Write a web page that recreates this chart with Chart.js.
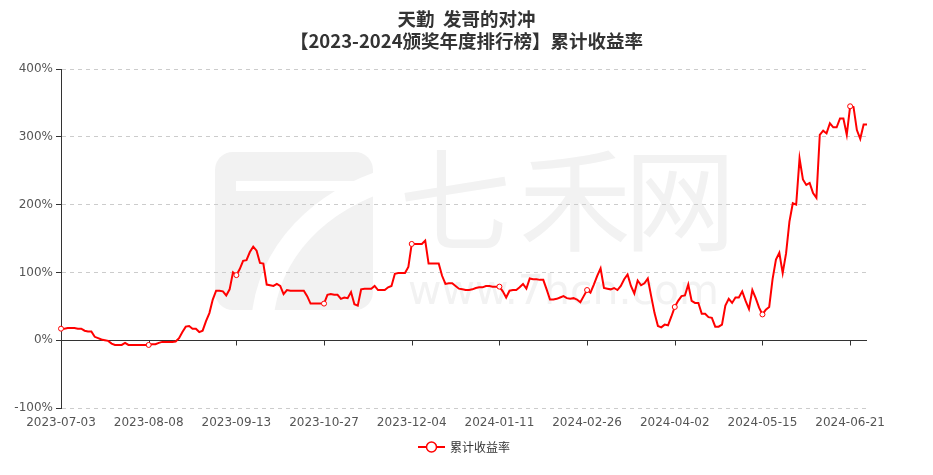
<!DOCTYPE html>
<html>
<head>
<meta charset="utf-8">
<script src="https://cdn.jsdelivr.net/npm/chart.js@4.4.1/dist/chart.umd.min.js"></script>
<style>
  html, body { margin: 0; padding: 0; background: #fff; }
  #wrap { width: 933px; height: 475px; position: relative; }
</style>
</head>
<body>
<div id="wrap"><canvas id="c" width="933" height="475"></canvas></div>
<script>
// title lines
const titleLines = ['天勤  发哥的对冲', '【2023-2024颁奖年度排行榜】累计收益率'];
const seriesName = '累计收益率';

// one x label every 26 trading days
const tickEvery = 26;
const tickLabels = ['2023-07-03', '2023-08-08', '2023-09-13', '2023-10-27', '2023-12-04',
  '2024-01-11', '2024-02-26', '2024-04-02', '2024-05-15', '2024-06-21'];

// cumulative return, %
const returns = [
  17, 17, 18, 18, 18, 17, 17, 14, 13, 13, 5, 3, 1, 0, -1, -5, -7, -7, -7, -4, -7, -7, -7, -7, -7, -7,
  -7, -6, -6, -4, -2.5, -2.5, -2.5, -2.5, -2, 3, 12, 20, 21, 17, 17, 12, 14, 28, 40, 60, 73, 73, 72, 66, 75, 100,
  96, 105, 117, 118, 130, 138, 132, 114, 113, 82, 81, 80, 83, 80, 68, 74, 73, 73, 73, 73, 73, 65, 54, 54, 54, 54,
  54, 67, 68, 67, 67, 61, 63, 62, 71, 53, 51, 75, 76, 76, 76, 80, 74, 74, 74, 78, 80, 98, 99, 99, 99, 108,
  142, 142, 142, 142, 147, 113, 113, 113, 113, 95, 83, 84, 84, 80, 76, 75, 74, 74, 75, 77, 78, 78, 80, 80, 79, 79,
  79, 72, 63, 73, 74, 74, 78, 83, 76, 91, 90, 90, 89, 89, 75, 60, 60, 61, 63, 65, 62, 61, 62, 60, 56, 65,
  74, 70, 82, 95, 106, 77, 76, 75, 77, 74, 80, 90, 97, 80, 69, 88, 81, 84, 91, 65, 40, 21, 19, 23, 22, 35,
  49, 58, 65, 66, 82, 58, 55, 55, 39, 39, 34, 33, 20, 20, 23, 51, 61, 55, 63, 63, 72, 58, 46, 74, 62, 48,
  38, 45, 49, 90, 119, 129, 99, 128, 175, 202, 200, 268, 237, 229, 232, 217, 210, 303, 309, 305, 320, 314, 314, 327, 327, 303,
  345, 344, 310, 297, 318, 318
];

const yMin = -100, yMax = 400, yStep = 100;

const labels = returns.map((_, i) => i % tickEvery === 0 ? (tickLabels[i / tickEvery] || '') : '');

const RED = '#ff0000';
const AXIS = '#333333';
const WM = '#f2f2f2';
const CJK = '"Noto Sans CJK SC", "DejaVu Sans", sans-serif';
const LATIN = '"DejaVu Sans", sans-serif';

// faint site watermark + white background, drawn under the grid
const watermark = {
  id: 'watermark',
  beforeDraw(chart) {
    const ctx = chart.ctx;
    ctx.save();
    ctx.fillStyle = '#fff';
    ctx.fillRect(0, 0, chart.width, chart.height);

    // logo block with a white sweep through it
    ctx.fillStyle = WM;
    ctx.beginPath();
    ctx.roundRect(215, 152, 158, 158, 18);
    ctx.fill();
    ctx.strokeStyle = '#fff';
    ctx.lineWidth = 22;
    ctx.beginPath();
    ctx.moveTo(262, 322);
    ctx.bezierCurveTo(268, 250, 320, 200, 392, 178);
    ctx.stroke();
    ctx.lineWidth = 10;
    ctx.beginPath();
    ctx.moveTo(236, 186);
    ctx.lineTo(360, 186);
    ctx.stroke();

    ctx.fillStyle = WM;
    ctx.textAlign = 'center';
    ctx.textBaseline = 'middle';
    ctx.font = '112px ' + CJK;
    ctx.fillText('七', 455, 200);
    ctx.fillText('禾', 575, 200);
    ctx.fillText('网', 680, 200);
    ctx.textAlign = 'left';
    ctx.font = '41px ' + LATIN;
    ctx.fillText('www.7hcn.com', 408, 293);
    ctx.restore();
  }
};

// x axis line sits on 0%, ticks point down from it
const zeroAxis = {
  id: 'zeroAxis',
  beforeDatasetsDraw(chart) {
    const { ctx, chartArea } = chart;
    const x = chart.scales.x, y = chart.scales.y;
    const y0 = Math.round(y.getPixelForValue(0)) + 0.5;
    ctx.save();
    ctx.strokeStyle = AXIS;
    ctx.lineWidth = 1;
    ctx.beginPath();
    ctx.moveTo(chartArea.left, y0);
    ctx.lineTo(chartArea.right, y0);
    for (let i = tickEvery; i < returns.length; i += tickEvery) {
      const px = Math.round(x.getPixelForValue(i)) + 0.5;
      ctx.moveTo(px, y0);
      ctx.lineTo(px, y0 + 5);
    }
    ctx.stroke();
    ctx.restore();
  }
};

// title on top, legend at the bottom
const decor = {
  id: 'decor',
  afterDraw(chart) {
    const ctx = chart.ctx;
    const cx = chart.width / 2;
    ctx.save();
    ctx.fillStyle = '#333';
    ctx.textAlign = 'center';
    ctx.textBaseline = 'middle';
    ctx.font = 'bold 18.5px ' + CJK;
    ctx.fillText(titleLines[0], cx, 19);
    ctx.fillText(titleLines[1], cx, 41);

    const ly = 447;
    ctx.strokeStyle = RED;
    ctx.lineWidth = 2;
    ctx.beginPath();
    ctx.moveTo(418, ly);
    ctx.lineTo(445, ly);
    ctx.stroke();
    ctx.beginPath();
    ctx.arc(431.5, ly, 5, 0, Math.PI * 2);
    ctx.fillStyle = '#fff';
    ctx.fill();
    ctx.lineWidth = 1.5;
    ctx.stroke();

    ctx.fillStyle = '#333';
    ctx.textAlign = 'left';
    ctx.font = '12px ' + CJK;
    ctx.fillText(seriesName, 450, ly);
    ctx.restore();
  }
};

new Chart(document.getElementById('c'), {
  type: 'line',
  data: {
    labels: labels,
    datasets: [{
      label: seriesName,
      data: returns,
      borderColor: RED,
      borderWidth: 2,
      tension: 0,
      fill: false,
      pointRadius: ctx => ctx.dataIndex % tickEvery === 0 ? 2.5 : 0,
      pointHoverRadius: 0,
      pointBackgroundColor: '#fff',
      pointBorderColor: RED,
      pointBorderWidth: 1
    }]
  },
  options: {
    responsive: false,
    animation: false,
    devicePixelRatio: 1,
    layout: { padding: { top: 69, right: 66, bottom: 0, left: 0 } },
    plugins: {
      legend: { display: false },
      title: { display: false },
      tooltip: { enabled: false }
    },
    scales: {
      x: {
        type: 'category',
        offset: false,
        grid: { display: false, drawTicks: false },
        border: { display: false },
        ticks: {
          autoSkip: false,
          maxRotation: 0,
          minRotation: 0,
          padding: 8,
          color: '#555',
          font: { family: LATIN, size: 12 }
        },
        afterFit(scale) { scale.height = 67; }
      },
      y: {
        min: yMin,
        max: yMax,
        grid: {
          color: ctx => ctx.tick && ctx.tick.value === 0 ? 'rgba(0,0,0,0)' : '#cccccc',
          lineWidth: 1,
          tickColor: AXIS,
          tickLength: 5,
          tickBorderDash: []
        },
        border: { display: true, color: AXIS, width: 1, dash: [4, 4] },
        ticks: {
          stepSize: yStep,
          padding: 3,
          color: '#555',
          font: { family: LATIN, size: 12 },
          callback: v => v + '%'
        },
        afterFit(scale) { scale.width = 61; }
      }
    }
  },
  plugins: [watermark, zeroAxis, decor]
});
</script>
</body>
</html>
